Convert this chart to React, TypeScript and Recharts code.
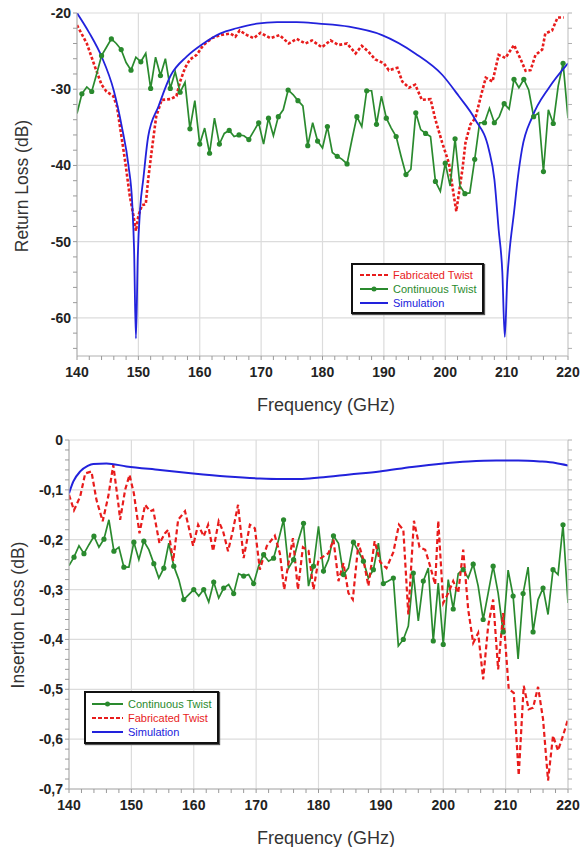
import React from "react";
import { LineChart, Line, XAxis, YAxis, CartesianGrid, Legend, Label } from "recharts";

const RED = "#e81c1c";
const GREEN = "#2a8a2e";
const BLUE = "#2222dc";
const FONT = "'Liberation Sans', Arial, sans-serif";

// measurement grid of the continuous twist (GHz)
const contFreq = [
  140, 140.8, 141.6, 142.4, 143.2, 144, 144.8, 145.6, 146.4, 147.2,
  148, 148.8, 149.6, 150.4, 151.2, 152, 152.8, 153.6, 154.4, 155.2,
  156, 156.8, 157.6, 158.4, 159.2, 160, 160.8, 161.6, 162.4, 163.2,
  164, 164.8, 165.6, 166.4, 167.2, 168, 168.8, 169.6, 170.4, 171.2,
  172, 172.8, 173.6, 174.4, 175.2, 176, 176.8, 177.6, 178.4, 179.2,
  180, 180.8, 181.6, 182.4, 183.2, 184, 184.8, 185.6, 186.4, 187.2,
  188, 188.8, 189.6, 190.4, 191.2, 192, 192.8, 193.6, 194.4, 195.2,
  196, 196.8, 197.6, 198.4, 199.2, 200, 200.8, 201.6, 202.4, 203.2,
  204, 204.8, 205.6, 206.4, 207.2, 208, 208.8, 209.6, 210.4, 211.2,
  212, 212.8, 213.6, 214.4, 215.2, 216, 216.8, 217.6, 218.4, 219.2,
  220,
];

// ---- return loss (dB) ----
const rlCont = [
  -33.2, -30.6, -29.7, -30.3, -28.0, -25.6, -24.5, -23.4, -24.0, -24.8,
  -26.5, -27.5, -25.8, -26.4, -25.3, -29.9, -25.8, -28.2, -26.0, -29.9,
  -27.7, -30.4, -29.1, -35.2, -31.5, -37.2, -35.1, -38.4, -33.8, -37.2,
  -35.8, -35.4, -36.2, -36.0, -36.1, -36.6, -35.5, -34.4, -37.2, -33.8,
  -36.1, -33.6, -32.7, -30.1, -30.7, -31.5, -32.2, -37.4, -34.4, -36.8,
  -37.7, -34.9, -38.3, -38.8, -39.2, -39.8, -36.6, -33.6, -34.9, -30.2,
  -30.2, -34.6, -30.9, -33.8, -35.1, -36.2, -38.8, -41.2, -40.5, -33.1,
  -35.3, -35.8, -36.2, -42.1, -43.4, -39.7, -42.7, -36.5, -42.7, -43.7,
  -43.6, -39.2, -34.4, -34.4, -32.5, -34.4, -33.6, -31.9, -32.6, -28.7,
  -29.8, -28.7, -30.1, -33.6, -33.1, -40.8, -32.7, -34.5, -29.6, -26.6,
  -33.8,
];

const rlFabFreq = [
  140, 141.6, 142.9, 144.0, 144.8, 145.9, 146.5, 147.0, 147.8, 148.6,
  149.2, 149.6, 150.0, 150.6, 151.2, 151.6, 152.2, 152.9, 153.8, 155.2,
  156.2, 156.8, 157.6, 158.4, 159.5, 160.6, 162.0, 163.3, 165.0, 165.8,
  166.5, 167.7, 168.8, 169.9, 171.5, 173.0, 174.5, 175.8, 177.2, 178.3,
  179.9, 181.3, 182.6, 184.0, 185.4, 186.4, 187.5, 188.6, 190.0, 190.8,
  192.2, 193.0, 194.1, 195.1, 196.2, 197.6, 198.4, 199.5, 200.6, 201.4,
  201.8, 202.8, 203.3, 204.1, 204.9, 206.0, 206.6, 207.7, 208.7, 209.8,
  211.2, 212.3, 213.1, 213.9, 214.7, 215.8, 216.3, 217.4, 218.3, 219.3,
];
const rlFab = [
  -21.6, -24.0, -27.0, -29.4, -30.3, -30.9, -32.2, -34.9, -39.2, -44.0,
  -46.6, -48.6, -46.6, -45.2, -45.1, -41.8, -37.9, -33.6, -31.4, -31.3,
  -30.9, -29.0, -27.2, -26.1, -25.5, -24.2, -23.3, -22.9, -22.7, -23.1,
  -22.3, -22.9, -23.3, -22.6, -23.3, -22.9, -24.0, -23.4, -24.0, -23.6,
  -24.5, -23.6, -24.2, -24.0, -25.3, -24.3, -25.1, -26.1, -26.6, -27.5,
  -27.2, -29.0, -29.8, -29.4, -31.4, -31.3, -34.0, -37.0, -39.7, -44.0,
  -46.0, -40.5, -37.0, -34.6, -33.8, -30.3, -28.5, -29.0, -25.5, -25.9,
  -24.2, -26.1, -27.6, -27.5, -25.5, -24.8, -22.7, -22.3, -20.6, -20.6,
];

const rlSimFreq = [
  140, 142, 144, 146, 147.3, 148.4, 149.0, 149.3, 149.6, 149.9,
  150.3, 150.8, 151.6, 153.3, 155.2, 157.9, 160.6, 163.3, 166, 169.3,
  172.6, 175.8, 179.4, 184.3, 189.7, 195.1, 199.5, 202.2, 204.9, 207.1,
  208.0, 208.7, 209.3, 209.7, 210.1, 210.5, 211.2, 211.8, 212.5, 214.2,
  216.9, 220,
];
const rlSim = [
  -20.0, -22.6, -25.7, -30.2, -34.9, -40.1, -45.0, -51.0, -62.7, -52.0,
  -45.5, -41.8, -36.2, -32.2, -28.3, -25.7, -24.0, -22.7, -22.0, -21.4,
  -21.2, -21.2, -21.4, -21.8, -22.9, -25.3, -28.1, -30.9, -34.0, -37.9,
  -41.8, -48.4, -54.0, -62.5, -55.0, -51.0, -46.2, -41.8, -37.9, -33.6,
  -29.8, -26.6,
];

// ---- insertion loss (dB) ----
const ilCont = [
  -0.252, -0.235, -0.212, -0.228, -0.21, -0.193, -0.215, -0.199, -0.16, -0.223,
  -0.215, -0.255, -0.255, -0.205, -0.24, -0.203, -0.22, -0.248, -0.277, -0.257,
  -0.207, -0.253, -0.28, -0.32, -0.31, -0.3, -0.313, -0.3, -0.325, -0.285,
  -0.317, -0.297, -0.29, -0.308, -0.268, -0.273, -0.27, -0.288, -0.253, -0.23,
  -0.243, -0.237, -0.2, -0.16, -0.257, -0.24, -0.2, -0.167, -0.293, -0.253,
  -0.173, -0.263, -0.24, -0.192, -0.207, -0.27, -0.257, -0.205, -0.223, -0.243,
  -0.277, -0.26, -0.207, -0.288, -0.283, -0.277, -0.413, -0.4, -0.373, -0.267,
  -0.363, -0.283, -0.257, -0.403, -0.287, -0.41, -0.28, -0.339, -0.268, -0.26,
  -0.277, -0.249, -0.293, -0.36, -0.307, -0.253, -0.307, -0.385, -0.261, -0.313,
  -0.439, -0.308, -0.255, -0.385, -0.32, -0.297, -0.35, -0.26, -0.27, -0.17,
  -0.327,
];

const ilFabFreq = [
  140.0, 140.8, 141.8, 142.6, 143.6, 144.4, 145.4, 146.3, 147.1, 147.9,
  148.2, 149.0, 149.7, 150.4, 151.3, 152.2, 153.0, 153.5, 154.5, 155.4,
  155.9, 156.7, 157.5, 158.6, 159.9, 160.7, 161.6, 162.3, 163.1, 164.0,
  164.7, 165.5, 166.3, 167.1, 168.0, 169.0, 169.8, 170.6, 171.7, 173.0,
  173.8, 174.5, 175.1, 175.9, 176.7, 177.5, 178.4, 179.2, 180.0, 181.6,
  182.4, 183.2, 184.0, 184.8, 185.5, 186.4, 187.2, 188.0, 189.0, 189.9,
  190.9, 192.0, 192.9, 193.6, 194.4, 195.3, 196.2, 197.1, 197.9, 198.7,
  199.2, 200.0, 200.8, 201.6, 202.4, 203.2, 204.0, 204.8, 205.6, 206.4,
  207.2, 208.0, 208.8, 209.6, 210.5, 211.3, 212.1, 212.9, 213.7, 214.4,
  215.2, 216.0, 216.8, 217.6, 218.4, 219.2, 220.0,
];
const ilFab = [
  -0.11, -0.141, -0.113, -0.067, -0.063, -0.12, -0.163, -0.113, -0.05, -0.127,
  -0.16, -0.1, -0.07, -0.107, -0.187, -0.13, -0.143, -0.14, -0.207, -0.187,
  -0.18, -0.243, -0.16, -0.143, -0.212, -0.17, -0.193, -0.17, -0.223, -0.163,
  -0.183, -0.223, -0.18, -0.13, -0.237, -0.17, -0.177, -0.26, -0.213, -0.192,
  -0.227, -0.3, -0.253, -0.197, -0.3, -0.215, -0.222, -0.3, -0.24, -0.227,
  -0.2, -0.283, -0.247, -0.307, -0.32, -0.207, -0.24, -0.293, -0.203, -0.245,
  -0.257, -0.225, -0.17, -0.18, -0.35, -0.162, -0.215, -0.22, -0.253, -0.29,
  -0.162, -0.327, -0.307, -0.283, -0.307, -0.22, -0.34, -0.407, -0.387, -0.48,
  -0.373, -0.32, -0.46, -0.347, -0.5, -0.507, -0.673, -0.493, -0.54, -0.537,
  -0.495, -0.56, -0.683, -0.593, -0.623, -0.593, -0.56,
];

const ilSimFreq = [
  140, 140.7, 141.8, 143, 143.9, 146, 149.2, 154.6, 159.9, 165.3,
  170.6, 174, 177, 180.2, 185, 189.8, 195, 200, 204, 208.5,
  212, 215.5, 218, 220,
];
const ilSim = [
  -0.107, -0.083, -0.063, -0.052, -0.048, -0.047, -0.053, -0.06, -0.067, -0.073,
  -0.077, -0.078, -0.078, -0.075, -0.069, -0.063, -0.054, -0.047, -0.043, -0.041,
  -0.041, -0.043, -0.046, -0.051,
];

// ---- axis ticks ----
const freqTicks = [
  140, 142, 144, 146, 148, 150, 152, 154, 156, 158, 160, 162, 164, 166, 168, 170,
  172, 174, 176, 178, 180, 182, 184, 186, 188, 190, 192, 194, 196, 198, 200, 202,
  204, 206, 208, 210, 212, 214, 216, 218, 220,
];
const freqLabels = [140, 150, 160, 170, 180, 190, 200, 210, 220];
const rlTicks = [
  -64, -62, -60, -58, -56, -54, -52, -50, -48, -46, -44, -42, -40, -38, -36, -34,
  -32, -30, -28, -26, -24, -22, -20,
];
const rlLabels = [-60, -50, -40, -30, -20];
const ilTicks = [
  -0.7, -0.68, -0.66, -0.64, -0.62, -0.6, -0.58, -0.56, -0.54, -0.52, -0.5, -0.48,
  -0.46, -0.44, -0.42, -0.4, -0.38, -0.36, -0.34, -0.32, -0.3, -0.28, -0.26, -0.24,
  -0.22, -0.2, -0.18, -0.16, -0.14, -0.12, -0.1, -0.08, -0.06, -0.04, -0.02, 0,
];
const ilLabels = [-0.7, -0.6, -0.5, -0.4, -0.3, -0.2, -0.1, 0];

const pts = (xs: number[], ys: number[]) => xs.map((f, i) => ({ f, v: ys[i] }));

const fmtIL = (v: number) => (v === 0 ? "0" : v.toFixed(1).replace(".", ","));

const tickText = { fontFamily: FONT, fontSize: 14, fontWeight: 700, fill: "#222" };

const xTick = (props: any) => {
  const { x, y, payload } = props;
  return (
    <g>
      <line x1={x} y1={y} x2={x} y2={y + 4} stroke="#9a9a9a" />
      {freqLabels.includes(payload.value) && (
        <text x={x} y={y + 21} textAnchor="middle" {...tickText}>
          {payload.value}
        </text>
      )}
    </g>
  );
};

const yTick = (labels: number[], fmt: (v: number) => string) => (props: any) => {
  const { x, y, payload } = props;
  return (
    <g>
      <line x1={x - 4} y1={y} x2={x} y2={y} stroke="#9a9a9a" />
      {labels.includes(payload.value) && (
        <text x={x - 6} y={y + 5} textAnchor="end" {...tickText}>
          {fmt(payload.value)}
        </text>
      )}
    </g>
  );
};

const rightTick = (props: any) => {
  const { x, y } = props;
  return <line x1={x} y1={y} x2={x + 4} y2={y} stroke="#b0b0b0" />;
};

const contDot = (p: any) =>
  p.index % 2 === 1 ? (
    <circle key={`d${p.index}`} cx={p.cx} cy={p.cy} r={2.6} fill={GREEN} />
  ) : (
    <g key={`d${p.index}`} />
  );

const title = (x: number, y: number, text: string, rotate = false) => () =>
  (
    <text
      x={x}
      y={y}
      textAnchor="middle"
      fontFamily={FONT}
      fontSize={rotate ? 17.5 : 18}
      fill="#333"
      transform={rotate ? `rotate(-90 ${x} ${y})` : undefined}
    >
      {text}
    </text>
  );

interface BoxProps {
  payload?: any[];
  order: string[];
  width: number;
  height: number;
  padTop: number;
  padLeft: number;
  sampleW: number;
  gap: number;
}

const LegendBox = ({ payload = [], order, width, height, padTop, padLeft, sampleW, gap }: BoxProps) => {
  const items = order.map((n) => payload.find((p) => p.value === n)).filter(Boolean);
  return (
    <div
      style={{
        width,
        height,
        boxSizing: "border-box",
        border: "2px solid #111",
        boxShadow: "1px 1px 1px #555",
        background: "#fff",
        paddingTop: padTop,
        paddingLeft: padLeft,
        fontFamily: FONT,
        fontSize: 11,
      }}
    >
      {items.map((it: any) => (
        <div key={it.value} style={{ display: "flex", alignItems: "center", height: 14, color: it.color }}>
          <svg width={sampleW} height={10} style={{ marginRight: gap }}>
            <line
              x1={0}
              y1={5}
              x2={sampleW}
              y2={5}
              stroke={it.color}
              strokeWidth={2}
              strokeDasharray={it.value === "Fabricated Twist" ? "4 2" : undefined}
            />
            {it.value === "Continuous Twist" && <circle cx={sampleW / 2} cy={5} r={2.5} fill={it.color} />}
          </svg>
          <span>{it.value}</span>
        </div>
      ))}
    </div>
  );
};

const ReturnLossChart = () => (
  <LineChart width={580} height={420} margin={{ top: 13, right: 0, bottom: 0, left: 0 }}>
    <CartesianGrid
      stroke="#dcdcdc"
      strokeWidth={1.2}
      verticalValues={freqLabels}
      horizontalValues={rlLabels}
    />
    <XAxis
      dataKey="f"
      type="number"
      domain={[140, 220]}
      ticks={freqTicks}
      interval={0}
      height={64}
      tickSize={0}
      tickMargin={0}
      tickLine={false}
      tick={xTick}
      stroke="#b0b0b0"
      allowDataOverflow
    >
      <Label content={title(326, 411, "Frequency (GHz)")} />
    </XAxis>
    <YAxis
      type="number"
      domain={[-65, -20]}
      ticks={rlTicks}
      interval={0}
      width={77}
      tickSize={0}
      tickMargin={0}
      tickLine={false}
      tick={yTick(rlLabels, (v) => String(v))}
      stroke="#b0b0b0"
      allowDataOverflow
    >
      <Label content={title(28, 186, "Return Loss (dB)", true)} />
    </YAxis>
    <YAxis
      yAxisId="r"
      orientation="right"
      type="number"
      domain={[-65, -20]}
      ticks={rlTicks}
      interval={0}
      width={12}
      tickSize={0}
      tickMargin={0}
      tickLine={false}
      tick={rightTick}
      stroke="#d0d0d0"
      allowDataOverflow
    />
    <Line
      data={pts(rlFabFreq, rlFab)}
      dataKey="v"
      name="Fabricated Twist"
      type="linear"
      stroke={RED}
      strokeWidth={2.6}
      strokeDasharray="3 2"
      dot={false}
      activeDot={false}
      isAnimationActive={false}
    />
    <Line
      data={pts(contFreq, rlCont)}
      dataKey="v"
      name="Continuous Twist"
      type="linear"
      stroke={GREEN}
      strokeWidth={1.7}
      dot={contDot}
      activeDot={false}
      isAnimationActive={false}
    />
    <Line
      data={pts(rlSimFreq, rlSim)}
      dataKey="v"
      name="Simulation"
      type="monotone"
      stroke={BLUE}
      strokeWidth={1.8}
      dot={false}
      activeDot={false}
      isAnimationActive={false}
    />
    <Legend
      layout="vertical"
      align="center"
      verticalAlign="middle"
      wrapperStyle={{ left: 351, top: 263, width: "auto" }}
      content={(p: any) => (
        <LegendBox
          payload={p.payload}
          order={["Fabricated Twist", "Continuous Twist", "Simulation"]}
          width={133}
          height={51}
          padTop={3}
          padLeft={7}
          sampleW={28}
          gap={5}
        />
      )}
    />
  </LineChart>
);

const InsertionLossChart = () => (
  <LineChart width={580} height={422} margin={{ top: 15, right: 0, bottom: 0, left: 0 }}>
    <CartesianGrid
      stroke="#dcdcdc"
      strokeWidth={1.2}
      verticalValues={freqLabels}
      horizontalValues={ilLabels}
    />
    <XAxis
      dataKey="f"
      type="number"
      domain={[140, 220]}
      ticks={freqTicks}
      interval={0}
      height={58}
      tickSize={0}
      tickMargin={0}
      tickLine={false}
      tick={xTick}
      stroke="#b0b0b0"
      allowDataOverflow
    >
      <Label content={title(326, 419, "Frequency (GHz)")} />
    </XAxis>
    <YAxis
      type="number"
      domain={[-0.7, 0]}
      ticks={ilTicks}
      interval={0}
      width={69}
      tickSize={0}
      tickMargin={0}
      tickLine={false}
      tick={yTick(ilLabels, fmtIL)}
      stroke="#b0b0b0"
      allowDataOverflow
    >
      <Label content={title(24, 190, "Insertion Loss (dB)", true)} />
    </YAxis>
    <YAxis
      yAxisId="r"
      orientation="right"
      type="number"
      domain={[-0.7, 0]}
      ticks={ilTicks}
      interval={0}
      width={12}
      tickSize={0}
      tickMargin={0}
      tickLine={false}
      tick={rightTick}
      stroke="#d0d0d0"
      allowDataOverflow
    />
    <Line
      data={pts(contFreq, ilCont)}
      dataKey="v"
      name="Continuous Twist"
      type="linear"
      stroke={GREEN}
      strokeWidth={1.7}
      dot={contDot}
      activeDot={false}
      isAnimationActive={false}
    />
    <Line
      data={pts(ilFabFreq, ilFab)}
      dataKey="v"
      name="Fabricated Twist"
      type="linear"
      stroke={RED}
      strokeWidth={2.2}
      strokeDasharray="5 3"
      dot={false}
      activeDot={false}
      isAnimationActive={false}
    />
    <Line
      data={pts(ilSimFreq, ilSim)}
      dataKey="v"
      name="Simulation"
      type="monotone"
      stroke={BLUE}
      strokeWidth={2}
      dot={false}
      activeDot={false}
      isAnimationActive={false}
    />
    <Legend
      layout="vertical"
      align="center"
      verticalAlign="middle"
      wrapperStyle={{ left: 84, top: 266, width: "auto" }}
      content={(p: any) => (
        <LegendBox
          payload={p.payload}
          order={["Continuous Twist", "Fabricated Twist", "Simulation"]}
          width={135}
          height={53}
          padTop={4}
          padLeft={6}
          sampleW={31}
          gap={5}
        />
      )}
    />
  </LineChart>
);

export default function App() {
  return (
    <div style={{ position: "absolute", left: 0, top: 0, width: 580, height: 847, background: "#fff" }}>
      <div style={{ position: "absolute", left: 0, top: 0 }}>
        <ReturnLossChart />
      </div>
      <div style={{ position: "absolute", left: 0, top: 425 }}>
        <InsertionLossChart />
      </div>
    </div>
  );
}
